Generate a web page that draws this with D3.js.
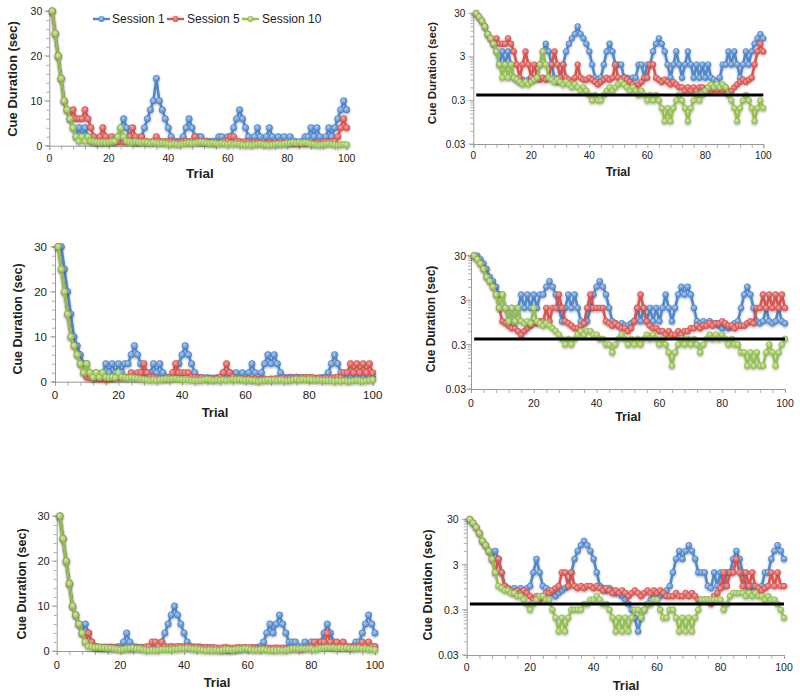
<!DOCTYPE html>
<html><head><meta charset="utf-8">
<script src="https://cdn.jsdelivr.net/npm/d3@7"></script>
<style>body{margin:0;background:#fff}svg{display:block}text{font-family:"Liberation Sans",Arial,sans-serif;fill:#222}</style>
</head><body><svg id="c" width="800" height="696"></svg>
<script>
const sessionNames = ["Session 1","Session 5","Session 10"];
const xTickLabels = [0,20,40,60,80,100];
const linearTickLabels = [0,10,20,30];
const logTickLabels = [0.03,0.3,3,30];
const thresholdValue = 0.4;
const thresholdTrials = [1,100];

// Row 1 (top)
const row1Session1 = [30,25,20,15,10,8,6,4,2,4, 2,4,2,1,0.9,0.8,0.9,0.8,0.9,1, 0.9,1,2,4,6,4,2,1,0.8,1, 2,4,6,8,10,15,10,8,6,4, 2,1,0.9,1,2,4,6,4,2,2, 2,1,1,0.9,1,1,2,2,1,2, 2,4,6,8,6,4,2,1,2,4, 2,1,2,4,2,1,2,1,2,1, 2,1,0.9,0.8,1,2,2,4,2,4, 2,1,2,4,2,4,6,8,10,8];
const row1Session5 = [30,25,20,15,10,8,6,8,6,6, 6,8,6,4,2,1,2,4,2,1, 2,1,0.9,1,0.9,1,2,4,2,1, 2,1,0.9,0.8,1,2,1,0.9,0.9,1, 0.9,0.8,0.7,0.8,0.9,1,0.9,1,2,1, 0.9,1,0.9,0.8,0.7,0.6,0.7,0.8,1,1, 2,2,1,0.9,0.8,0.9,0.8,0.7,0.8,0.7, 0.6,0.6,0.5,0.6,0.5,0.6,0.5,0.6,0.6,0.5, 0.6,0.5,0.6,0.5,0.6,0.5,0.6,0.5,0.5,0.6, 0.7,0.8,0.9,0.8,0.9,1,2,4,6,4];
const row1Session10 = [30,25,20,15,10,8,6,4,2,1, 2,1,2,1,0.9,0.8,0.7,0.8,0.7,0.8, 0.9,1,2,4,2,1,0.9,0.8,0.9,0.8, 0.7,0.8,0.7,0.6,0.7,0.6,0.5,0.6,0.5,0.4, 0.3,0.4,0.3,0.3,0.4,0.5,0.6,0.5,0.6,0.7, 0.8,0.7,0.6,0.5,0.6,0.5,0.4,0.5,0.4,0.3, 0.4,0.3,0.4,0.3,0.2,0.1,0.2,0.1,0.2,0.3, 0.4,0.3,0.2,0.1,0.2,0.3,0.4,0.3,0.4,0.5, 0.6,0.7,0.6,0.7,0.6,0.7,0.6,0.4,0.3,0.2, 0.1,0.2,0.3,0.4,0.3,0.2,0.1,0.2,0.3,0.2];

// Row 2 (middle)
const row2Session1 = [30,30,25,20,15,10,8,6,4,4, 2,1,2,1,2,4,2,4,2,4, 2,4,4,6,8,6,4,2,1,2, 4,2,4,2,1,0.9,1,2,4,6, 8,6,4,2,1,0.9,0.8,0.9,0.8,0.8, 0.9,1,2,1,2,1,2,1,2,1, 2,4,2,1,2,4,6,4,6,4, 2,1,0.9,1,0.9,1,0.9,0.9,0.8,0.7, 0.8,0.7,0.8,0.9,1,2,4,6,4,2, 1,0.9,1,2,1,0.9,1,2,1,0.9];
const row2Session5 = [30,25,20,15,10,8,6,4,2,1, 0.9,0.8,0.7,0.7,0.6,0.5,0.6,0.7,0.8,0.9, 0.9,1,1,2,1,2,2,4,2,1, 0.9,0.8,0.7,0.7,0.8,0.9,2,4,2,2, 2,2,1,0.9,0.8,0.9,0.8,0.7,0.7,0.6, 0.7,1,2,4,2,1,0.8,0.7,0.7,0.6, 0.6,0.5,0.6,0.5,0.5,0.6,0.5,0.6,0.6,0.7, 0.7,0.8,0.7,0.8,0.8,0.9,0.8,0.9,0.9,1, 0.9,0.8,0.8,0.7,0.8,0.8,0.8,0.9,1,0.9, 2,2,4,2,4,2,4,2,4,2];
const row2Session10 = [30,25,20,15,10,8,6,4,2,4, 2,1,2,1,2,1,0.9,1,0.9,2, 1,0.9,0.8,0.9,0.8,0.7,0.6,0.5,0.4,0.3, 0.4,0.3,0.4,0.5,0.6,0.5,0.6,0.6,0.5,0.5, 0.4,0.4,0.3,0.3,0.2,0.3,0.4,0.5,0.4,0.3, 0.4,0.3,0.4,0.3,0.4,0.5,0.4,0.5,0.4,0.3, 0.4,0.3,0.2,0.1,0.2,0.3,0.4,0.3,0.4,0.3, 0.4,0.3,0.2,0.3,0.4,0.5,0.4,0.5,0.4,0.5, 0.4,0.3,0.4,0.3,0.3,0.2,0.2,0.1,0.2,0.1, 0.2,0.1,0.1,0.2,0.3,0.2,0.1,0.2,0.3,0.4];

// Row 3 (bottom)
const row3Session1 = [30,25,20,15,10,8,6,4,6,4, 2,1,0.9,0.8,0.9,0.8,0.9,0.8,0.9,1, 2,4,2,1,0.9,0.8,0.7,0.6,0.7,0.8, 0.9,1,2,4,6,8,10,8,6,4, 2,1,0.9,0.8,0.9,0.8,0.7,0.7,0.6,0.5, 0.4,0.3,0.2,0.1,0.2,0.3,0.4,0.5,0.6,0.6, 0.6,0.7,0.8,1,2,4,6,4,6,8, 6,4,2,2,2,1,0.9,2,1,2, 1,2,2,4,6,4,2,1,0.9,1, 0.9,0.8,1,2,2,4,6,8,6,4];
const row3Session5 = [30,25,20,15,10,8,6,4,2,4, 2,1,0.9,0.8,0.7,0.8,0.7,0.8,0.7,0.6, 0.5,0.6,0.5,0.6,0.7,0.7,0.8,0.9,1,2, 2,1,2,1,0.9,1,0.9,1,1,0.9, 1,0.9,0.8,0.9,0.8,0.7,0.8,0.7,0.8,0.7, 0.6,0.7,0.8,0.7,0.6,0.7,0.8,0.7,0.8,0.7, 0.8,0.7,0.6,0.6,0.6,0.7,0.6,0.6,0.7,0.6, 0.7,0.6,0.5,0.5,0.5,0.5,0.4,0.6,0.7,0.9, 2,1,2,2,4,2,1,2,1,2, 1,0.9,0.8,0.9,1,2,1,2,1,1];
const row3Session10 = [30,25,20,15,10,8,6,4,2,1, 0.9,0.8,0.8,0.7,0.7,0.6,0.6,0.5,0.4,0.3, 0.4,0.5,0.6,0.6,0.5,0.5,0.3,0.2,0.1,0.2, 0.1,0.2,0.3,0.3,0.3,0.3,0.4,0.4,0.5,0.5, 0.6,0.5,0.4,0.4,0.3,0.2,0.1,0.2,0.1,0.2, 0.1,0.2,0.3,0.3,0.2,0.3,0.4,0.4,0.5,0.5, 0.3,0.2,0.2,0.3,0.3,0.2,0.1,0.2,0.1,0.2, 0.1,0.2,0.3,0.5,0.5,0.5,0.5,0.5,0.5,0.5, 0.3,0.4,0.6,0.7,0.7,0.7,0.7,0.6,0.7,0.6, 0.7,0.6,0.6,0.5,0.6,0.5,0.5,0.4,0.3,0.2];

const lineColors = ["#4F88CC","#D9534F","#95C050"];
const markerEdges = ["#4479BD","#C94A46","#86B043"];
const markerLights = ["#A9C9EE","#F2A29F","#D2E8A8"];

const svg = d3.select("#c");
const defs = svg.append("defs");
lineColors.forEach((c,i) => {
  const gr = defs.append("radialGradient").attr("id","mg"+i).attr("cx","40%").attr("cy","35%").attr("r","65%");
  gr.append("stop").attr("offset","0%").attr("stop-color",markerLights[i]);
  gr.append("stop").attr("offset","100%").attr("stop-color",c);
});
const shadow = defs.append("filter").attr("id","sh").attr("x","-5%").attr("y","-5%").attr("width","110%").attr("height","115%");
shadow.append("feDropShadow").attr("dx",0).attr("dy",1.2).attr("stdDeviation",0.8).attr("flood-color","#000").attr("flood-opacity",0.3);

const rows = [
  [row1Session1,row1Session5,row1Session10],
  [row2Session1,row2Session5,row2Session10],
  [row3Session1,row3Session5,row3Session10]
];

const panels = [
  {row:0,log:false,x0:49.3,x1:346.7,yt:11,yb:145.7,tf:10.5,hf:13,xly:158,ygap:7,tx:12,ty:79,trx:200,try:173,r:3.2},
  {row:0,log:true, x0:473.3,x1:763.3,yt:13.3,yb:144,tf:10,hf:11.5,xly:155.5,ygap:8,tx:431.5,ty:73,trx:618,try:172,r:2.9},
  {row:1,log:false,x0:55,x1:372.7,yt:246.7,yb:381.7,tf:11.5,hf:12.5,xly:395,ygap:8,tx:18,ty:319,trx:215,try:412,r:3.2},
  {row:1,log:true, x0:471,x1:785,yt:255.7,yb:389,tf:10.5,hf:12,xly:402.7,ygap:5,tx:431,ty:319,trx:628,try:417,r:3},
  {row:2,log:false,x0:56.7,x1:375,yt:516,yb:651,tf:11,hf:12.5,xly:665,ygap:7,tx:22,ty:584,trx:217,try:682,r:3.2},
  {row:2,log:true, x0:466.7,x1:784,yt:519.3,yb:655,tf:10.5,hf:12.5,xly:667,ygap:8,tx:428,ty:585,trx:626,try:685,r:3}
];

const axisColor = "#9a9a9a";

panels.forEach(p => {
  const g = svg.append("g");
  const x = d3.scaleLinear().domain([0,100]).range([p.x0,p.x1]);
  const y = p.log ? d3.scaleLog().domain([0.03,30]).range([p.yb,p.yt])
                  : d3.scaleLinear().domain([0,30]).range([p.yb,p.yt]);

  const xa = g.append("g").attr("transform",`translate(0,${p.yb})`)
    .call(d3.axisBottom(x).tickValues(d3.range(0,101,4)).tickSize(4).tickFormat(""));
  let yMinor;
  if (p.log) {
    yMinor = [];
    logTickLabels.forEach(m => { for (let k=1;k<10;k++){ const v=m*k; if (v<=30.0001) yMinor.push(v);} });
  } else {
    yMinor = d3.range(0,31,2);
  }
  const ya = g.append("g").attr("transform",`translate(${p.x0},0)`)
    .call(d3.axisLeft(y).tickValues(yMinor).tickSize(3).tickFormat(""));
  [xa,ya].forEach(a => {
    a.select(".domain").attr("stroke",axisColor).attr("stroke-width",1);
    a.selectAll(".tick line").attr("stroke",axisColor).attr("stroke-width",0.8);
  });
  const majors = p.log ? logTickLabels : linearTickLabels;
  g.selectAll(".ymaj").data(majors).join("line")
    .attr("x1",p.x0-5).attr("x2",p.x0).attr("y1",d=>y(d)).attr("y2",d=>y(d))
    .attr("stroke",axisColor).attr("stroke-width",0.8);

  g.selectAll(".xl").data(xTickLabels).join("text")
    .attr("x",d=>x(d)).attr("y",p.xly).attr("text-anchor","middle").attr("dominant-baseline","central")
    .style("font-size",p.tf+"px").text(d=>d);
  g.selectAll(".yl").data(majors).join("text")
    .attr("x",p.x0-p.ygap).attr("y",d=>y(d)).attr("text-anchor","end").attr("dominant-baseline","central")
    .style("font-size",p.tf+"px").text(d=>d);

  g.append("text").attr("transform",`translate(${p.tx},${p.ty}) rotate(-90)`)
    .attr("text-anchor","middle").attr("dominant-baseline","central")
    .style("font-size",p.hf+"px").style("font-weight","bold").text("Cue Duration (sec)");
  g.append("text").attr("x",p.trx).attr("y",p.try)
    .attr("text-anchor","middle").attr("dominant-baseline","central")
    .style("font-size",(p.hf+0.5)+"px").style("font-weight","bold").text("Trial");

  const line = d3.line().x((d,i)=>x(i+1)).y(d=>y(d));
  rows[p.row].forEach((s,si) => {
    const sg = g.append("g").attr("filter","url(#sh)");
    sg.append("path").datum(s).attr("d",line).attr("fill","none")
      .attr("stroke",lineColors[si]).attr("stroke-width",2.6).attr("stroke-linejoin","round");
    sg.append("g").selectAll("circle").data(s).join("circle")
      .attr("cx",(d,i)=>x(i+1)).attr("cy",d=>y(d)).attr("r",p.r)
      .attr("fill",`url(#mg${si})`).attr("stroke",markerEdges[si]).attr("stroke-width",0.6);
  });

  if (p.log) {
    g.append("line").attr("x1",x(thresholdTrials[0])).attr("x2",x(thresholdTrials[1]))
      .attr("y1",y(thresholdValue)).attr("y2",y(thresholdValue))
      .attr("stroke","#000").attr("stroke-width",3);
  }
});

const legendX = [93,167,242];
const legendTextX = [112,187,262];
const legendY = 19;
sessionNames.forEach((name,i) => {
  svg.append("line").attr("x1",legendX[i]).attr("x2",legendX[i]+17).attr("y1",legendY).attr("y2",legendY)
    .attr("stroke",lineColors[i]).attr("stroke-width",2.4);
  svg.append("circle").attr("cx",legendX[i]+8.5).attr("cy",legendY).attr("r",2.8)
    .attr("fill",`url(#mg${i})`).attr("stroke",markerEdges[i]).attr("stroke-width",0.6);
  svg.append("text").attr("x",legendTextX[i]).attr("y",legendY).attr("dominant-baseline","central")
    .style("font-size","12px").text(name);
});
</script></body></html>
